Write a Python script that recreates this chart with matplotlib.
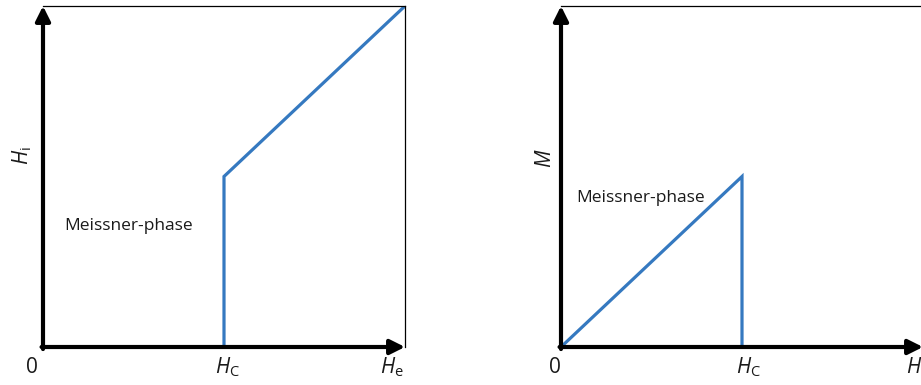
import matplotlib.pyplot as plt

plt.rcParams['font.family'] = 'Open Sans'
plt.rcParams['mathtext.fontset'] = 'custom'
plt.rcParams['mathtext.it'] = 'Open Sans:italic'
plt.rcParams['mathtext.rm'] = 'Open Sans'

# Inwendig veld H_i en magnetisatie M tegen uitwendig veld H_e (eenheden t.o.v. max)
h_c = 0.5
hi_x = [h_c, h_c, 1.0]
hi_y = [0.0, 0.5, 1.0]
m_x = [0.0, h_c, h_c]
m_y = [0.0, 0.5, 0.0]

blauw = '#3579C0'
tekst = '#1a1a1a'

fig = plt.figure(figsize=(9.21, 3.85), dpi=100)

def assenstelsel(links, box_rechts=True):
    ax = fig.add_axes([links / 921, 38 / 385, 362 / 921, 341 / 385])
    ax.set_xlim(0, 1)
    ax.set_ylim(0, 1)
    ax.axis('off')
    # dunne kader boven en rechts
    ax.plot([0, 1], [1, 1], color='black', lw=0.9, clip_on=False)
    if box_rechts:
        ax.plot([1, 1], [0, 1], color='black', lw=0.9, clip_on=False)
    # dikke assen met pijlpunt
    pijl = dict(arrowstyle='-|>', lw=3, color='black', mutation_scale=22,
                shrinkA=0, shrinkB=0)
    ax.annotate('', xy=(1, 0), xytext=(-0.004, 0), arrowprops=pijl,
                annotation_clip=False)
    ax.annotate('', xy=(0, 1), xytext=(0, -0.006), arrowprops=pijl,
                annotation_clip=False)
    return ax

# links: H_i
ax1 = assenstelsel(43)
ax1.plot(hi_x, hi_y, color=blauw, lw=2.3, solid_joinstyle='miter', zorder=1)
ax1.text(-0.03, -0.06, '0', fontsize=15, ha='center', va='center', color=tekst)
ax1.text(0.51, -0.06, r'$H_\mathrm{C}$', fontsize=15, ha='center', va='center',
         color=tekst)
ax1.text(0.965, -0.06, r'$H_\mathrm{e}$', fontsize=15, ha='center', va='center',
         color=tekst)
ax1.text(-0.058, 0.56, r'$H_\mathrm{i}$', fontsize=15, ha='center', va='center',
         rotation=90, color=tekst)
ax1.text(0.058, 0.355, 'Meissner-phase', fontsize=12.5, ha='left', va='center',
         color=tekst)

# rechts: M
ax2 = assenstelsel(561, box_rechts=False)
ax2.plot(m_x, m_y, color=blauw, lw=2.3, solid_joinstyle='miter', zorder=1)
ax2.text(-0.017, -0.06, '0', fontsize=15, ha='center', va='center', color=tekst)
ax2.text(0.517, -0.06, r'$H_\mathrm{C}$', fontsize=15, ha='center', va='center',
         color=tekst)
ax2.text(0.985, -0.06, r'$H_\mathrm{e}$', fontsize=15, ha='center', va='center',
         color=tekst)
ax2.text(-0.044, 0.555, r'$M$', fontsize=15, ha='center', va='center',
         rotation=90, color=tekst)
ax2.text(0.041, 0.437, 'Meissner-phase', fontsize=12.5, ha='left', va='center',
         color=tekst)

fig.savefig('out.png', dpi=100)
